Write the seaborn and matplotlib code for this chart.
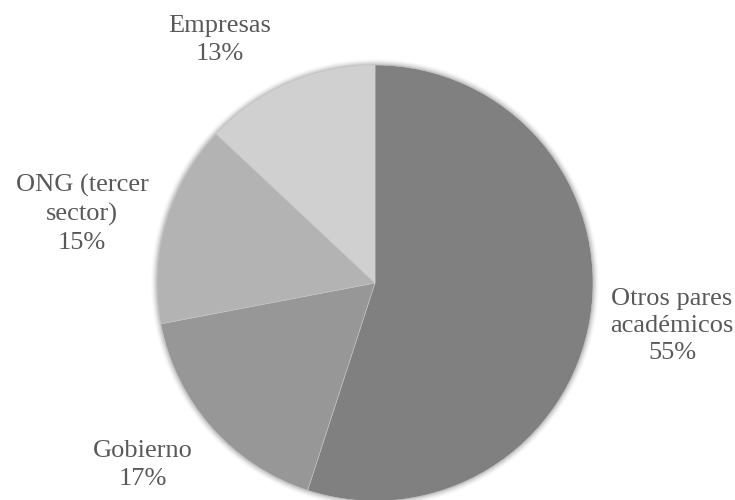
import matplotlib
matplotlib.use("Agg")
import matplotlib.pyplot as plt
import seaborn as sns
from matplotlib.patches import Circle

# Distribution of collaboration partners
categories = ["Otros pares\nacadémicos", "Gobierno", "ONG (tercer\nsector)", "Empresas"]
shares = [55, 17, 15, 13]
colors = ["#808080", "#979797", "#b3b3b3", "#d0d0d0"]

sns.set_theme(style="white")
plt.rcParams["font.family"] = ["Liberation Serif", "DejaVu Serif"]

W, H = 735, 500
fig = plt.figure(figsize=(W / 100, H / 100), dpi=100)
ax = fig.add_axes([0, 0, 1, 1])

center = (375, 217)
radius = 218

# soft halo around the pie
for k, a in zip(range(6, 0, -1), [0.015, 0.025, 0.035, 0.045, 0.055, 0.065]):
    ax.add_patch(Circle(center, radius + k, color="black", alpha=a, lw=0, zorder=0))

wedges, _ = ax.pie(shares, colors=colors, startangle=90, counterclock=False,
                   center=center, radius=radius, frame=True,
                   wedgeprops=dict(linewidth=0.4, edgecolor="#c8c8c8"))
for w in wedges:
    w.set_zorder(1)
ax.set_xlim(0, W)
ax.set_ylim(0, H)
ax.set_aspect("equal")
ax.axis("off")

# label anchor points (pixel layout)
label_pos = [(672, 174), (143, 35), (82, 286), (220, 460)]
for cat, val, (x, y) in zip(categories, shares, label_pos):
    ax.text(x, y, f"{cat}\n{val}%", ha="center", va="center", fontsize=19,
            color="#595959", linespacing=1.32, zorder=3)

fig.savefig("out.png", dpi=100)
